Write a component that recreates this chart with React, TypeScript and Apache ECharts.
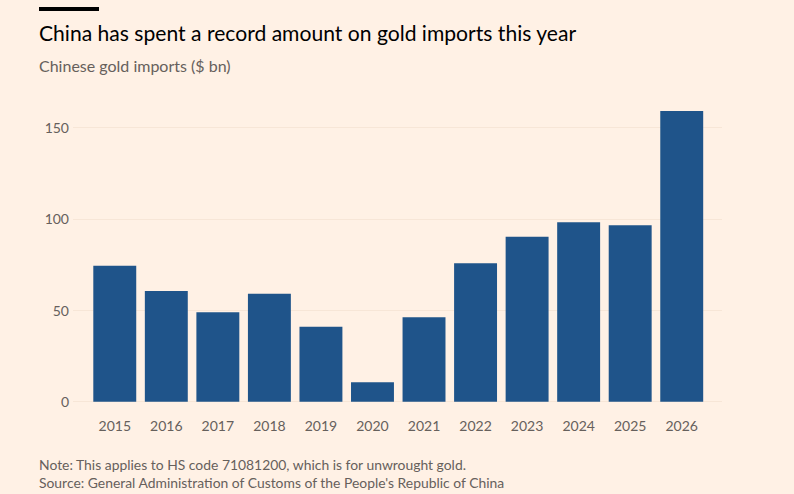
import React, { useEffect, useRef } from "react";
import * as echarts from "echarts";

const years = ["2015", "2016", "2017", "2018", "2019", "2020", "2021", "2022", "2023", "2024", "2025", "2026"];
const imports = [74.4, 60.6, 48.9, 59.1, 41.0, 10.6, 46.2, 75.7, 90.3, 98.1, 96.5, 159.0];
const yTicks = [0, 50, 100, 150];

const titleText = "China has spent a record amount on gold imports this year";
const subtitleText = "Chinese gold imports ($ bn)";
const noteText = "Note: This applies to HS code 71081200, which is for unwrought gold.";
const sourceText = "Source: General Administration of Customs of the People's Republic of China";

const BG = "#fff1e5";
const BAR = "#1f548a";
const MUTED = "#66605c";
const GRID = "#f7e6d7";
const FONT = "Lato, 'Noto Sans', sans-serif";

export default function App() {
  const ref = useRef<HTMLDivElement>(null);
  useEffect(() => {
    document.body.style.margin = "0";
    document.body.style.background = BG;
    const chart = echarts.init(ref.current!, undefined, { renderer: "svg" });
    const yMax = 200;
    const gridTop = 36.1;
    const gridBottom = 494 - 401.7;
    chart.setOption({
      animation: false,
      backgroundColor: BG,
      textStyle: { fontFamily: FONT },
      grid: [
        { left: 73, right: 72, top: gridTop, bottom: gridBottom },
        { left: 89, right: 86.5, top: gridTop, bottom: gridBottom },
      ],
      xAxis: [
        { gridIndex: 0, type: "value", show: false, min: 0, max: 1 },
        {
          gridIndex: 1,
          type: "category",
          data: years,
          axisLine: { show: false },
          axisTick: { show: false },
          axisLabel: { color: MUTED, fontSize: 14, fontFamily: FONT, margin: 17 },
        },
      ],
      yAxis: [
        {
          gridIndex: 0,
          type: "value",
          min: 0,
          max: yMax,
          interval: 50,
          axisLine: { show: false },
          axisTick: { show: false },
          axisLabel: {
            color: MUTED,
            fontSize: 14,
            fontFamily: FONT,
            margin: 4,
            formatter: (v: number) => (yTicks.includes(v) ? String(v) : ""),
          },
          splitLine: {
            show: true,
            lineStyle: { color: [GRID, GRID, GRID, GRID, "rgba(0,0,0,0)"], width: 1 },
          },
        },
        { gridIndex: 1, type: "value", min: 0, max: yMax, show: false, splitLine: { show: false } },
      ],
      series: [
        {
          type: "bar",
          xAxisIndex: 1,
          yAxisIndex: 1,
          data: imports,
          barCategoryGap: "16.7%",
          itemStyle: { color: BAR },
          silent: true,
        },
      ],
      graphic: [
        { type: "rect", shape: { x: 39, y: 7, width: 60, height: 4 }, style: { fill: "#000" } },
        {
          type: "text",
          x: 39,
          y: 32,
          style: { text: titleText, fill: "#000", font: `21.1px ${FONT}`, verticalAlign: "middle" },
        },
        {
          type: "text",
          x: 39,
          y: 65,
          style: { text: subtitleText, fill: MUTED, font: `16px ${FONT}`, verticalAlign: "middle" },
        },
        {
          type: "text",
          x: 39,
          y: 464,
          style: { text: noteText, fill: MUTED, font: `13.9px ${FONT}`, verticalAlign: "middle" },
        },
        {
          type: "text",
          x: 39,
          y: 482,
          style: { text: sourceText, fill: MUTED, font: `13.9px ${FONT}`, verticalAlign: "middle" },
        },
      ],
    });
    return () => chart.dispose();
  }, []);
  return <div ref={ref} style={{ position: "absolute", left: 0, top: 0, width: 794, height: 494 }} />;
}
